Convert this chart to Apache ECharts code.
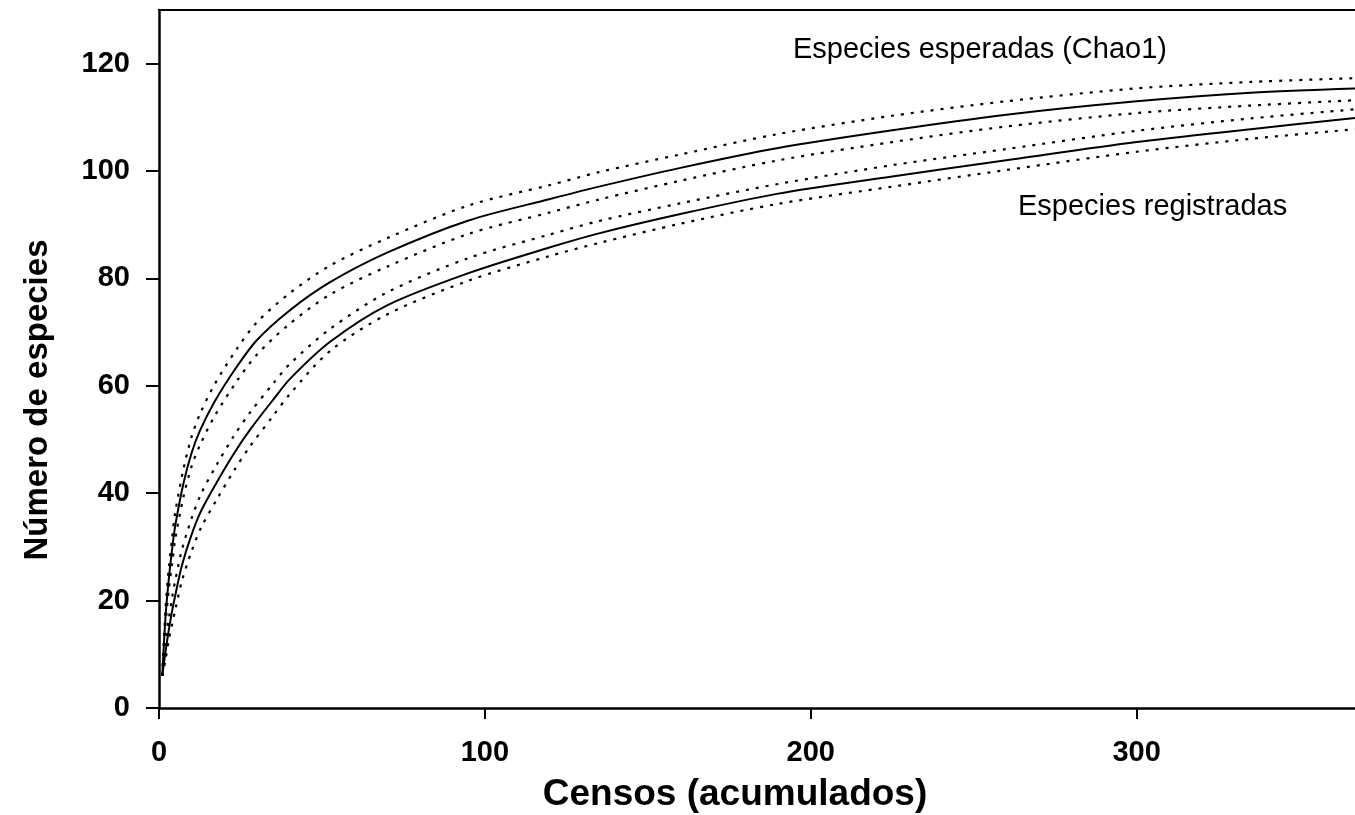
<!DOCTYPE html>
<html><head><meta charset="utf-8">
<script src="https://cdn.jsdelivr.net/npm/echarts@6/dist/echarts.min.js"></script>
<style>html,body{margin:0;padding:0;background:#fff}#c{width:1355px;height:815px}</style>
</head><body><div id="c"></div>
<script>
// Cumulative censuses (x) for each curve
const xChao   = [1, 2, 3, 4, 5, 7.5, 10, 12.6, 17, 23.8, 30, 40, 52.5, 70, 95, 120, 135, 160, 190, 225, 260, 300, 335, 367];
const chao    = [6, 17, 24, 29.5, 34, 41.8, 47.5, 51.7, 57, 63.5, 68.5, 74, 79.3, 84.8, 90.8, 94.8, 97.1, 100.6, 104.3, 107.6, 110.5, 113.0, 114.6, 115.4];
const chaoUp  = [6, 18.5, 26, 31.5, 36.5, 44.5, 50.5, 54.8, 60.2, 66.8, 71.8, 77.2, 82.4, 87.5, 93.6, 97.4, 99.8, 103.1, 106.9, 110.3, 113.0, 115.4, 116.6, 117.3];
const chaoLo  = [6, 15.5, 22, 26.8, 31.5, 39.3, 45, 49, 54.3, 60.8, 65.8, 71.5, 77.0, 82.2, 88.3, 92.3, 94.7, 98.2, 102.0, 105.4, 108.3, 110.8, 112.2, 113.2];
const xReg    = [1, 2, 3, 4, 5, 7, 10, 13, 17.7, 23, 27.9, 35, 40.2, 52.5, 70, 95, 120, 135, 160, 190, 225, 260, 300, 335, 367];
const reg     = [6, 10.5, 14.5, 18, 21, 26.5, 32.3, 36.8, 42, 47.4, 51.8, 57.4, 61.3, 68.2, 75.0, 81.0, 85.8, 88.4, 92.0, 95.8, 99.0, 102.0, 105.4, 107.8, 109.9];
const regUp   = [6, 12, 16.5, 20.5, 23.8, 29.4, 35.3, 40, 45.3, 50.7, 55, 60.4, 64.1, 70.6, 77.4, 83.8, 88.2, 90.7, 94.0, 97.6, 101.1, 104.1, 107.5, 109.8, 111.5];
const regLo   = [6, 9, 12.6, 15.5, 18.3, 23.6, 29.2, 33.7, 38.8, 44.2, 48.7, 54.4, 58.5, 66.5, 73.3, 79.6, 84.2, 86.6, 90.2, 93.9, 97.1, 100.2, 103.6, 106.0, 107.8];
const xTicks  = [0, 100, 200, 300];
const yTicks  = [0, 20, 40, 60, 80, 100, 120];
const xTitle  = 'Censos (acumulados)';
const yTitle  = 'Número de especies';
const labelChao = 'Especies esperadas (Chao1)';
const labelReg  = 'Especies registradas';

const pairs = (xs, ys) => xs.map((x, i) => [x, ys[i]]);
const FONT = 'Liberation Sans, Arial, sans-serif';
const solid = {color: '#000', width: 2};
const dotted = {color: '#000', width: 2.2, type: [3, 7], cap: 'butt'};
function line(name, xs, ys, style) {
  return {name, type: 'line', data: pairs(xs, ys), showSymbol: false, symbol: 'none',
    smooth: 0.3, lineStyle: style, silent: true, animation: false, z: 3};
}
const chart = echarts.init(document.getElementById('c'), null, {renderer: 'canvas'});
chart.setOption({
  backgroundColor: '#fff',
  animation: false,
  grid: {left: 159, right: 0, top: 10, bottom: 107, containLabel: false},
  xAxis: [{
    type: 'value', min: 0, max: 367, interval: 100,
    axisLine: {lineStyle: {color: '#000', width: 2.5}},
    axisTick: {show: true, length: 11, lineStyle: {color: '#000', width: 2}, customValues: xTicks},
    axisLabel: {color: '#000', fontFamily: FONT, fontWeight: 'bold', fontSize: 29, margin: 30, customValues: xTicks},
    splitLine: {show: false}
  }, {
    type: 'value', position: 'top', min: 0, max: 367,
    axisLine: {show: true, onZero: false, lineStyle: {color: '#000', width: 2}},
    axisTick: {show: false}, axisLabel: {show: false}, splitLine: {show: false}
  }],
  yAxis: {
    type: 'value', min: 0, max: 130, interval: 20,
    axisLine: {show: true, lineStyle: {color: '#000', width: 2.5}},
    axisTick: {show: true, length: 13, lineStyle: {color: '#000', width: 2}, customValues: yTicks},
    axisLabel: {color: '#000', fontFamily: FONT, fontWeight: 'bold', fontSize: 29, margin: 29, customValues: yTicks},
    splitLine: {show: false}
  },
  series: [
    line('Chao1', xChao, chao, solid),
    line('Chao1 sup', xChao, chaoUp, dotted),
    line('Chao1 inf', xChao, chaoLo, dotted),
    line('Registradas', xReg, reg, solid),
    line('Registradas sup', xReg, regUp, dotted),
    line('Registradas inf', xReg, regLo, dotted)
  ],
  graphic: [
    {type: 'text', x: 735, y: 795, style: {text: xTitle, fill: '#000', font: 'bold 37px ' + FONT, textAlign: 'center', textVerticalAlign: 'middle'}},
    {type: 'text', x: 38, y: 400, rotation: Math.PI / 2, style: {text: yTitle, fill: '#000', font: 'bold 33px ' + FONT, textAlign: 'center', textVerticalAlign: 'middle'}},
    {type: 'text', x: 793, y: 50, style: {text: labelChao, fill: '#000', font: '29px ' + FONT, textAlign: 'left', textVerticalAlign: 'middle'}},
    {type: 'text', x: 1018, y: 207, style: {text: labelReg, fill: '#000', font: '29px ' + FONT, textAlign: 'left', textVerticalAlign: 'middle'}}
  ]
});
</script></body></html>
